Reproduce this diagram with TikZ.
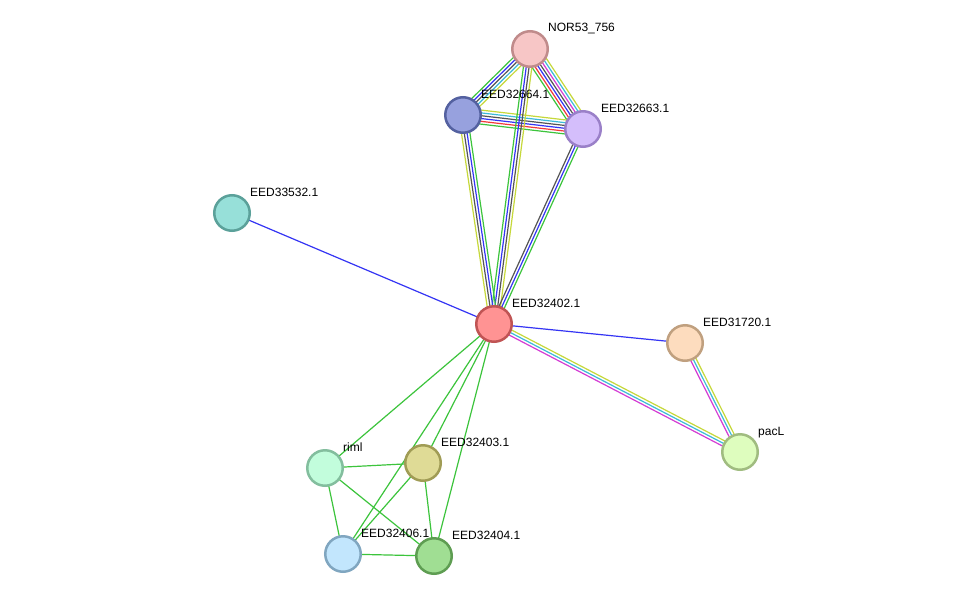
\documentclass[tikz,border=0pt]{standalone}
\usepackage{fontspec}
\setmainfont{Liberation Sans}
\usetikzlibrary{calc,backgrounds}
\definecolor{eg}{HTML}{3CC43C}
\definecolor{eb}{HTML}{3434F4}
\definecolor{ek}{HTML}{555555}
\definecolor{ec}{HTML}{3CBAD8}
\definecolor{ey}{HTML}{C6D83A}
\definecolor{er}{HTML}{F23A3A}
\definecolor{em}{HTML}{D43CD4}
\tikzset{
  prot/.style={circle,minimum size=35.5pt,inner sep=0pt,line width=2.5pt},
  plabel/.style={anchor=base west,font=\fontsize{12}{13}\selectfont,inner sep=0pt},
  ln/.style={line width=1.2pt},
}
\newcommand\multiedge[3]{%
  \foreach \c [count=\n] in {#3}{\xdef\numc{\n}}%
  \foreach \c [count=\i] in {#3}{%
    \pgfmathsetmacro\off{(\i-(\numc+1)/2)*2.8}%
    \draw[ln,draw=\c] ($(#1.center)!\off pt!90:(#2.center)$) -- ($(#2.center)!\off pt!-90:(#1.center)$);
  }%
}
\begin{document}
\begin{tikzpicture}[x=1pt,y=-1pt]
\useasboundingbox (0,0) rectangle (976,602);
% nodes
\node[prot,fill={rgb,255:red,247;green,198;blue,198},draw={rgb,255:red,192;green,139;blue,139}] (nor) at (530,49) {};
\node[prot,fill={rgb,255:red,151;green,161;blue,222},draw={rgb,255:red,84;green,97;blue,160}] (e664) at (463,115) {};
\node[prot,fill={rgb,255:red,212;green,190;blue,251},draw={rgb,255:red,154;green,128;blue,200}] (e663) at (583,129) {};
\node[prot,fill={rgb,255:red,151;green,224;blue,217},draw={rgb,255:red,91;green,161;blue,154}] (e532) at (232,213) {};
\node[prot,fill={rgb,255:red,255;green,147;blue,147},draw={rgb,255:red,192;green,84;blue,84}] (e402) at (494,324) {};
\node[prot,fill={rgb,255:red,253;green,220;blue,190},draw={rgb,255:red,192;green,160;blue,127}] (e720) at (685,343) {};
\node[prot,fill={rgb,255:red,222;green,253;blue,190},draw={rgb,255:red,160;green,188;blue,128}] (pacl) at (740,452) {};
\node[prot,fill={rgb,255:red,194;green,253;blue,220},draw={rgb,255:red,131;green,190;blue,158}] (riml) at (325,468) {};
\node[prot,fill={rgb,255:red,223;green,219;blue,150},draw={rgb,255:red,160;green,156;blue,85}] (e403) at (423,463) {};
\node[prot,fill={rgb,255:red,194;green,230;blue,253},draw={rgb,255:red,128;green,166;blue,192}] (e406) at (343,554) {};
\node[prot,fill={rgb,255:red,160;green,222;blue,147},draw={rgb,255:red,94;green,157;blue,82}] (e404) at (434,556) {};
% labels
\node[plabel] (lnor) at (548,32) {NOR53\_756};
\node[plabel] (l664) at (481,98) {EED32664.1};
\node[plabel] (l663) at (601,112) {EED32663.1};
\node[plabel] (l532) at (250,196) {EED33532.1};
\node[plabel] (l402) at (512,307) {EED32402.1};
\node[plabel] (l720) at (703,326) {EED31720.1};
\node[plabel] (lpac) at (758,435) {pacL};
\node[plabel] (lriml) at (343,451) {riml};
\node[plabel] (l403) at (441,446) {EED32403.1};
\node[plabel] (l406) at (361,537) {EED32406.1};
\node[plabel] (l404) at (452,539) {EED32404.1};
% edges
\begin{pgfonlayer}{background}
\fill[white] (0,0) rectangle (976,602);
\multiedge{nor}{e664}{eg,eb,ek,ec,ey}
\multiedge{nor}{e663}{eg,er,eb,ek,em,ec,ey}
\multiedge{e664}{e663}{eg,er,eb,ek,ec,ey}
\multiedge{nor}{e402}{eg,eb,ek,ey}
\multiedge{e664}{e402}{ey,ek,eb,eg}
\multiedge{e663}{e402}{ek,eb,eg}
\multiedge{e402}{pacl}{em,ec,ey}
\multiedge{e720}{pacl}{em,ec,ey}
\draw[ln,eb] (e532.center) -- (e402.center);
\draw[ln,eb] (e402.center) -- (e720.center);
\foreach \a/\b in {e402/riml,e402/e403,e402/e406,e402/e404,riml/e403,riml/e406,riml/e404,e403/e406,e403/e404,e406/e404}
  \draw[ln,eg] (\a.center) -- (\b.center);
\end{pgfonlayer}
\end{tikzpicture}
\end{document}
